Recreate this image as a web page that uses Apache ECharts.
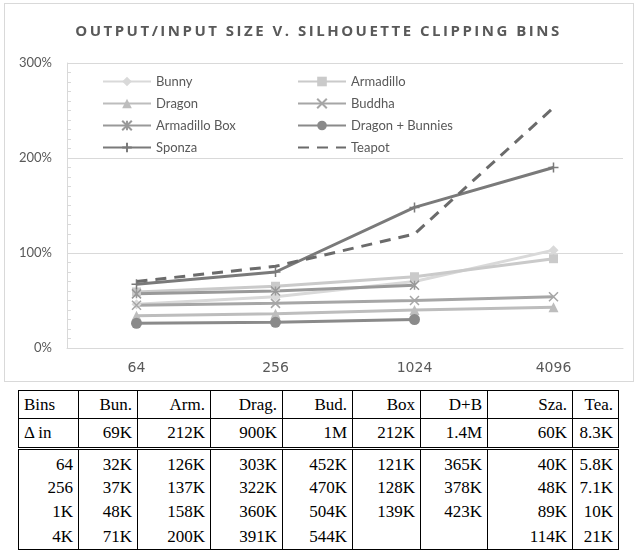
<!DOCTYPE html>
<html>
<head>
<meta charset="utf-8">
<script src="https://cdn.jsdelivr.net/npm/echarts@6/dist/echarts.min.js"></script>
<style>
  body { margin: 0; background: #fff; width: 637px; height: 554px; position: relative; overflow: hidden; }
  #frame { position: absolute; left: 4px; top: 3px; width: 628px; height: 377px; border: 1px solid #d9d9d9; }
  #chart { position: absolute; left: 0; top: 0; width: 637px; height: 385px; }
  #title { position: absolute; left: 0; top: 20px; width: 637px; text-align: center;
    font: bold 15px "Open Sans", sans-serif; letter-spacing: 2.5px; color: #595959; }
  #tbl { position: absolute; left: 18px; top: 390px; border-collapse: collapse; table-layout: fixed;
    font: 17px "Liberation Serif", serif; color: #000; }
  #tbl td { border-left: 1px solid #000; border-right: 1px solid #000; padding: 0 5px; height: 24px; text-align: right; line-height: 22px; }
  #tbl tr.head td { border-top: 1px solid #000; border-bottom: 1px solid #000; height: 27px; }
  #tbl tr.delta td { border-bottom: 3px double #000; height: 28px; }
  #tbl tr.first td { height: 26px; vertical-align: bottom; }
  #tbl tr.last td { border-bottom: 1px solid #000; height: 25px; }
</style>
</head>
<body>
<div id="frame"></div>
<div id="chart"></div>
<div id="title">OUTPUT/INPUT SIZE V. SILHOUETTE CLIPPING BINS</div>
<table id="tbl"></table>
<script>
  // bins on the x axis
  const bins = ['64', '256', '1024', '4096'];

  // output/input size in percent
  const bunny = [46, 54, 70, 103];
  const armadillo = [59, 65, 75, 94];
  const dragon = [34, 36, 40, 43];
  const buddha = [45, 47, 50, 54];
  const armadilloBox = [57, 60, 66, null];
  const dragonBunnies = [26, 27, 30, null];
  const sponza = [67, 80, 148, 190];
  const teapot = [70, 86, 120, 253];

  // table under the chart
  const tableHeader = ['Bins', 'Bun.', 'Arm.', 'Drag.', 'Bud.', 'Box', 'D+B', 'Sza.', 'Tea.'];
  const deltaIn = ['\u0394 in', '69K', '212K', '900K', '1M', '212K', '1.4M', '60K', '8.3K'];
  const tableRows = [
    ['64', '32K', '126K', '303K', '452K', '121K', '365K', '40K', '5.8K'],
    ['256', '37K', '137K', '322K', '470K', '128K', '378K', '48K', '7.1K'],
    ['1K', '48K', '158K', '360K', '504K', '139K', '423K', '89K', '10K'],
    ['4K', '71K', '200K', '391K', '544K', '', '', '114K', '21K']
  ];
  const colWidths = [60, 59, 73, 72, 70, 68, 67, 85, 46];

  const xMark = 'path://M0,0L10,10M10,0L0,10';
  const plusMark = 'path://M5,0L5,10M0,5L10,5';
  const starMark = 'path://M0,0L10,10M10,0L0,10M5,0L5,10';

  function line(name, data, color, symbol, size, stroke) {
    return {
      name: name,
      type: 'line',
      data: data,
      symbol: symbol,
      symbolSize: size,
      showAllSymbol: true,
      lineStyle: { color: color, width: 3 },
      itemStyle: stroke
        ? { color: color, borderColor: color, borderWidth: 1.5 }
        : { color: color, borderWidth: 0 }
    };
  }

  const option = {
    animation: false,
    grid: { left: 67, right: 14, top: 63, bottom: 37 },
    legend: {
      left: 97,
      top: 70,
      width: 420,
      itemWidth: 48,
      itemHeight: 12,
      itemGap: 9,
      textStyle: { color: '#595959', fontSize: 13, fontFamily: 'Lato', width: 132, lineHeight: 12 },
      data: ['Bunny', 'Armadillo', 'Dragon', 'Buddha', 'Armadillo Box', 'Dragon + Bunnies', 'Sponza',
        { name: 'Teapot', itemStyle: { opacity: 0 } }]
    },
    xAxis: {
      type: 'category',
      data: bins,
      axisLine: { lineStyle: { color: '#d9d9d9', width: 1 } },
      axisTick: { show: false },
      axisLabel: { color: '#595959', fontSize: 14, fontFamily: 'DejaVu Sans', margin: 13 }
    },
    yAxis: {
      type: 'value',
      min: 0,
      max: 300,
      interval: 100,
      axisLine: { show: true, lineStyle: { color: '#d9d9d9' } },
      axisTick: { show: true, inside: true, length: 4, lineStyle: { color: '#d9d9d9' } },
      minorTick: { show: true, splitNumber: 10, length: 4, lineStyle: { color: '#d9d9d9' } },
      splitLine: { lineStyle: { color: '#d9d9d9' } },
      axisLabel: { color: '#595959', fontSize: 13, fontFamily: 'Lato', margin: 15, formatter: '{value}%' }
    },
    series: [
      line('Bunny', bunny, '#d9d9d9', 'diamond', 10, false),
      line('Armadillo', armadillo, '#cacaca', 'rect', 9, false),
      line('Dragon', dragon, '#bdbdbd', 'triangle', 10, false),
      line('Buddha', buddha, '#a6a6a6', xMark, 9, true),
      line('Armadillo Box', armadilloBox, '#999999', starMark, 9, true),
      line('Dragon + Bunnies', dragonBunnies, '#8a8a8a', 'circle', 11, false),
      line('Sponza', sponza, '#7a7a7a', plusMark, 10, true),
      {
        name: 'Teapot',
        type: 'line',
        data: teapot,
        symbol: 'none',
        lineStyle: { color: '#6b6b6b', width: 3, type: [11, 8] },
        itemStyle: { color: '#6b6b6b' }
      }
    ]
  };

  const chart = echarts.init(document.getElementById('chart'));
  chart.setOption(option);

  // build the table
  const tbl = document.getElementById('tbl');
  const colgroup = document.createElement('colgroup');
  colWidths.forEach(w => {
    const c = document.createElement('col');
    c.style.width = w + 'px';
    colgroup.appendChild(c);
  });
  tbl.appendChild(colgroup);
  function addRow(cells, cls) {
    const tr = document.createElement('tr');
    if (cls) tr.className = cls;
    cells.forEach((v, i) => {
      const td = document.createElement('td');
      td.textContent = v;
      if (i === 0 && (cls === 'head' || cls === 'delta')) td.style.textAlign = 'left';
      tr.appendChild(td);
    });
    tbl.appendChild(tr);
  }
  addRow(tableHeader, 'head');
  addRow(deltaIn, 'delta');
  tableRows.forEach((r, i) => addRow(r, i === 0 ? 'first' : (i === tableRows.length - 1 ? 'last' : '')));
</script>
</body>
</html>
